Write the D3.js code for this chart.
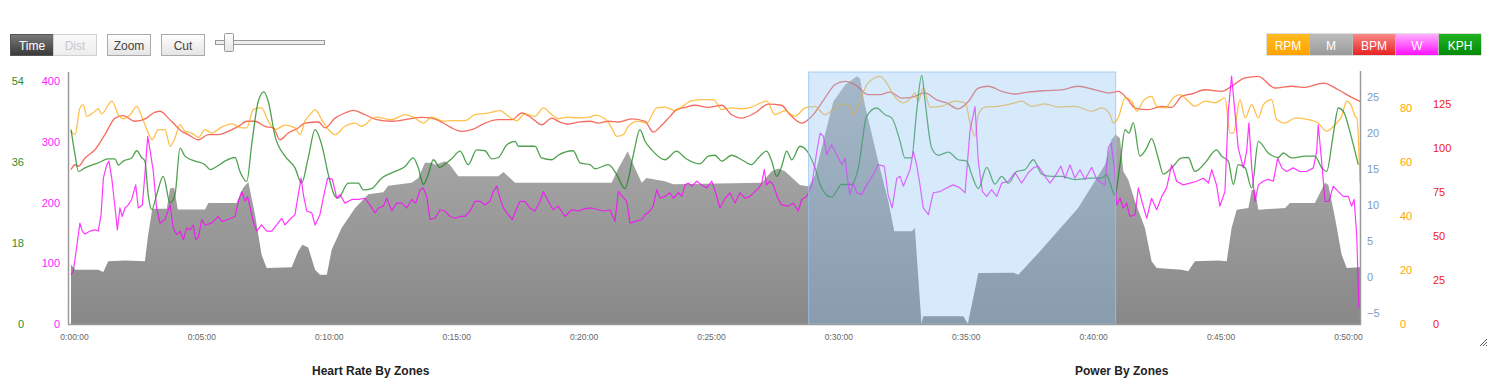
<!DOCTYPE html>
<html><head><meta charset="utf-8">
<script src="https://cdn.jsdelivr.net/npm/d3@7"></script>
<style>
body{margin:0;background:#fff;overflow:hidden}
svg{display:block;font-family:"Liberation Sans",Arial,sans-serif}
</style>
</head><body>
<svg id="c" width="1509" height="385"></svg>
<script>
// ---- data (time in minutes, value in series units) ----
const altitude = [[0,1.7],[0.16,1.0],[1.07,1.0],[1.27,0.7],[1.46,2.2],[2.12,2.3],[2.90,2.2],[3.03,5.9],[3.19,9.5],[3.76,9.5],
[3.89,12.3],[4.05,12.4],[4.19,9.4],[5.26,9.4],[5.39,10.3],[6.50,10.3],[6.76,12.4],[6.96,13.2],[7.22,8.7],[7.48,3.1],
[7.68,1.25],[8.66,1.35],[8.92,3.6],[9.08,4.5],[9.31,4.1],[9.58,1.0],[9.77,0.3],[10.04,0.3],
[10.23,3.8],[10.62,6.8],[11.15,9.6],[11.67,11.5],[12.26,11.8],[12.45,12.7],[13.37,13.1],[13.63,13.75],[13.89,15.9],[14.16,15.9],
[14.29,15.6],[14.68,16.1],[14.87,15.6],[15.20,14.0],[16.77,14.0],[16.97,14.6],[17.43,13.1],[20.37,13.1],
[21.22,13.1],[21.48,15.1],[21.85,17.5],[22.14,15.1],[22.40,13.1],[22.59,13.75],[23.31,13.3],[23.64,12.9],[27.11,13.1],[27.50,14.7],
[27.76,15.1],[28.02,14.7],[28.61,12.8],[28.96,12.6],[29.20,14.2],[29.59,19.8],[29.92,24.4],[30.38,26.7],
[30.84,27.9],[30.97,27.6],[31.16,23.9],[31.68,16.1],[32.08,10.5],[32.31,6.35],[33.00,6.35],[33.12,6.8],[33.38,-6.5],[33.45,-5.45],
[35.02,-5.45],[35.20,-6.5],[35.61,0.55],[37.00,0.6],[37.18,0.3],[37.96,3.3],[39.53,9.6],[40.58,15.6],
[40.84,19.1],[41.00,19.8],[41.17,19.3],[41.30,14.7],[41.50,13.5],[41.76,10.5],[42.15,6.8],[42.41,2.2],[42.61,1.25],[43.59,1.0],
[43.85,0.8],[44.11,2.2],[45.03,2.3],[45.36,2.2],[45.55,6.8],[45.75,9.35],[46.21,9.6],[46.34,12.1],[46.47,12.1],[46.60,9.35],
[47.65,9.6],[47.84,10.3],[48.82,10.3],[49.22,13.1],[49.35,12.8],[49.61,8.2],[49.87,3.1],[50.07,1.25],[50.59,1.35]];

const speedKph = [[0,43.2],[0.16,37.6],[0.29,33.9],[0.55,34.7],[1.07,35.8],[1.46,36.7],[1.73,36.7],[1.86,35.3],[2.05,36.2],[2.38,36.9],
[2.58,38.5],[2.77,37.0],[2.90,36.2],[3.03,28.7],[3.17,25.4],[3.36,28.7],[3.62,32.8],[3.89,26.9],[4.08,28.7],[4.28,39.1],
[4.47,37.3],[4.87,36.2],[5.26,35.4],[5.46,34.3],[5.72,35.0],[6.04,36.2],[6.44,37.0],[6.63,33.9],[6.90,31.7],[7.09,39.8],
[7.35,49.5],[7.57,51.6],[7.74,49.5],[8.01,41.7],[8.40,37.3],[8.79,34.7],[9.05,31.3],[9.31,36.9],[9.58,43.2],[9.84,39.8],
[10.10,33.2],[10.36,28.4],[10.49,28.0],[10.88,31.3],[11.28,31.3],[11.47,29.8],[11.80,30.1],[12.19,32.4],[12.59,33.6],[13.11,35.0],
[13.43,36.9],[13.63,34.7],[13.83,31.0],[14.02,33.2],[14.22,36.5],[14.48,34.8],[14.74,35.8],[14.94,36.7],[15.27,38.4],[15.59,35.4],
[15.92,38.7],[16.25,38.5],[16.51,36.7],[16.77,37.0],[17.10,39.8],[17.43,40.6],[17.56,39.5],[18.21,39.5],[18.47,36.9],[18.87,36.5],
[19.12,37.5],[19.71,38.5],[19.98,35.8],[20.37,35.4],[20.57,34.5],[21.09,35.4],[21.42,33.2],[21.74,30.1],[22.07,37.6],[22.33,43.2],
[22.53,40.6],[22.79,38.7],[23.31,36.5],[23.77,38.4],[24.10,36.9],[24.69,35.6],[25.01,37.3],[25.27,37.5],[25.54,36.2],[25.93,37.5],
[26.32,36.5],[26.71,35.4],[26.97,36.9],[27.30,38.4],[27.50,36.2],[27.70,32.8],[27.89,35.0],[28.09,38.4],[28.29,36.5],[28.61,39.5],
[28.94,38.0],[29.20,34.7],[29.46,30.2],[29.85,28.2],[30.25,31.0],[30.64,31.0],[30.90,34.7],[31.23,46.2],[31.62,48.0],[31.95,46.5],
[32.21,45.8],[32.54,40.6],[32.73,36.9],[32.99,36.9],[33.19,47.3],[33.39,55.3],[33.52,49.5],[33.78,39.1],[34.04,37.5],[34.43,38.2],
[34.82,36.5],[35.15,36.2],[35.35,33.2],[35.61,30.1],[35.94,34.8],[36.26,31.1],[36.53,32.8],[36.79,31.3],[37.12,33.9],[37.44,34.3],
[37.77,36.5],[38.10,33.3],[38.49,32.8],[38.88,32.8],[39.40,32.1],[40.06,32.4],[40.45,32.4],[40.65,33.2],[40.78,31.3],[40.97,28.7],
[41.17,35.4],[41.37,43.2],[41.52,42.4],[41.69,44.7],[41.95,37.3],[42.22,39.1],[42.41,41.2],[42.67,36.9],[42.87,33.3],[43.20,34.7],
[43.59,36.9],[43.85,37.0],[44.11,33.9],[44.51,35.8],[44.96,38.7],[45.16,37.3],[45.42,36.2],[45.62,31.0],[45.81,35.4],[46.08,34.7],
[46.34,30.2],[46.60,40.6],[46.99,38.0],[47.38,37.0],[47.58,38.0],[47.91,36.9],[48.43,37.3],[48.82,37.3],[49.09,34.7],[49.28,33.9],
[49.54,42.1],[49.74,48.0],[49.93,47.3],[50.26,41.3],[50.52,35.4]];

const cadenceRpm = [[0,71.4],[0.16,70.1],[0.35,80.0],[0.48,81.2],[0.62,76.9],[0.94,78.8],[1.07,79.7],[1.20,77.8],[1.60,82.5],[1.86,77.5],
[2.05,76.0],[2.32,77.5],[2.58,80.6],[2.80,76.3],[3.03,70.7],[3.19,68.3],[3.43,72.0],[3.69,72.0],[3.89,65.8],[4.08,68.9],
[4.28,73.8],[4.47,71.4],[4.74,70.7],[5.00,69.1],[5.26,72.0],[5.52,70.7],[5.91,72.9],[6.31,74.1],[6.70,72.6],[6.90,72.6],
[7.15,79.4],[7.48,80.0],[7.74,75.1],[8.01,72.0],[8.40,73.6],[8.79,72.6],[8.99,70.1],[9.18,75.1],[9.38,77.5],[9.58,79.4],
[9.84,75.7],[10.10,72.0],[10.36,70.1],[10.75,73.2],[11.15,74.4],[11.41,73.2],[11.93,76.6],[12.59,75.7],[13.11,77.5],[13.43,76.6],
[13.83,74.4],[14.16,76.6],[14.61,75.1],[15.00,75.3],[15.46,75.3],[15.86,77.5],[16.38,78.1],[16.84,79.0],[17.16,76.9],[17.49,75.3],
[17.82,77.8],[18.21,76.9],[18.54,80.0],[18.87,77.5],[19.12,76.0],[19.52,76.6],[19.91,76.3],[20.37,76.6],[20.57,77.3],[20.96,76.0],
[21.22,72.6],[21.42,69.5],[21.68,70.1],[21.87,73.2],[22.26,75.1],[22.59,74.4],[22.99,80.0],[23.31,80.3],[23.70,79.0],[24.10,81.2],
[24.36,82.7],[24.88,83.1],[25.21,83.1],[25.54,79.4],[25.93,80.0],[26.32,79.7],[26.71,80.3],[27.30,82.5],[27.63,77.5],[28.02,79.0],
[28.41,76.9],[28.81,80.0],[29.20,80.6],[29.59,77.5],[29.92,79.4],[30.25,81.5],[30.57,80.6],[30.70,77.5],[30.97,82.5],[31.23,88.6],
[31.75,91.7],[32.01,89.3],[32.27,84.9],[32.66,81.9],[32.99,84.0],[33.12,85.6],[33.25,82.5],[33.45,87.4],[33.71,80.3],[34.17,80.6],
[34.69,82.5],[35.09,81.9],[35.32,73.2],[35.48,69.5],[35.61,77.5],[35.87,80.3],[36.39,80.6],[37.05,81.9],[37.31,82.5],[37.70,80.6],
[38.23,81.5],[38.75,80.3],[39.40,80.6],[40.06,78.8],[40.45,80.0],[40.78,77.5],[40.91,74.4],[41.10,76.3],[41.37,83.7],[41.63,82.5],
[41.83,78.8],[42.08,82.5],[42.41,84.3],[42.61,80.6],[42.94,80.0],[43.26,83.7],[43.52,84.9],[43.85,82.5],[44.11,80.6],[44.51,82.5],
[44.90,81.9],[45.29,83.7],[45.49,70.7],[45.62,70.7],[45.88,83.1],[46.08,76.3],[46.34,81.2],[46.60,76.3],[46.80,81.2],[47.12,83.1],
[47.32,75.7],[47.65,74.4],[48.04,76.3],[48.56,75.7],[48.95,74.4],[49.28,71.4],[49.61,73.8],[49.87,76.9],[50.07,82.5],[50.26,80.6],
[50.40,76.9],[50.47,76.3],[50.59,52.2]];

const heartBpm = [[0,87.7],[0.16,90.5],[0.29,89.6],[0.55,94.3],[0.94,99.0],[1.33,107.6],[1.73,117.0],[2.05,118.4],[2.51,115.2],[2.97,117.0],
[3.23,119.9],[3.49,120.9],[3.82,117.0],[4.08,113.2],[4.34,109.5],[4.60,107.6],[5.00,104.7],[5.39,107.6],[5.78,107.6],[6.17,109.5],
[6.57,112.3],[6.90,115.2],[7.22,115.2],[7.61,112.3],[7.94,111.4],[8.20,104.7],[8.53,108.5],[8.92,111.4],[9.18,114.2],[9.71,114.8],
[9.97,111.4],[10.36,117.0],[10.75,119.9],[11.08,121.4],[11.54,118.9],[12.00,116.1],[12.59,115.2],[13.11,116.1],[13.76,117.4],[14.16,117.0],
[14.61,114.2],[14.94,111.4],[15.33,109.5],[15.73,110.4],[16.25,114.2],[16.77,116.1],[17.30,116.1],[17.69,119.9],[18.08,117.0],[18.47,113.2],
[18.87,117.0],[19.12,115.2],[19.52,113.6],[19.98,114.8],[20.37,115.2],[20.69,114.2],[21.09,115.2],[21.48,114.8],[22.01,116.6],[22.53,115.2],
[22.85,109.1],[23.18,112.9],[23.51,118.0],[23.77,121.8],[24.10,123.1],[24.49,124.3],[25.01,123.1],[25.54,124.3],[25.93,118.9],[26.32,117.0],
[26.84,119.9],[27.37,125.0],[27.89,124.3],[28.22,118.9],[28.68,114.2],[29.07,118.0],[29.59,128.4],[29.98,136.0],[30.38,137.9],[30.77,136.0],
[31.29,130.3],[31.75,130.3],[32.14,131.8],[32.60,128.4],[32.99,128.8],[33.52,131.3],[33.98,127.4],[34.37,125.6],[34.82,122.3],[35.22,126.5],
[35.61,134.1],[36.00,135.1],[36.53,132.2],[37.05,130.7],[37.57,131.8],[38.23,132.6],[38.88,133.1],[39.53,135.1],[40.19,133.1],[40.78,131.3],
[41.10,132.2],[41.43,128.4],[41.76,122.7],[42.28,121.8],[42.81,123.7],[43.20,123.1],[43.59,129.4],[43.98,130.7],[44.51,133.1],[45.16,132.2],
[45.55,135.1],[46.08,139.8],[46.60,140.7],[47.25,134.1],[47.91,135.1],[48.43,134.5],[49.15,136.9],[49.74,133.1],[50.26,128.8],[50.59,126.5]];

const powerW = [[0,81],[0.09,87],[0.18,114],[0.35,166],[0.44,153],[0.55,148],[0.75,153],[0.94,155],[1.07,153],[1.18,180],
[1.27,240],[1.40,262],[1.49,268],[1.60,240],[1.73,191],[1.82,155],[1.92,191],[2.01,177],[2.12,191],[2.25,196],
[2.38,205],[2.54,229],[2.64,191],[2.80,196],[2.90,246],[3.01,309],[3.11,284],[3.23,251],[3.36,191],[3.49,166],
[3.69,172],[3.89,196],[4.01,158],[4.15,147],[4.28,153],[4.41,139],[4.54,158],[4.67,155],[4.80,163],[4.89,139],
[5.00,142],[5.13,172],[5.26,163],[5.52,166],[5.78,177],[5.91,169],[6.17,172],[6.44,177],[6.57,202],[6.70,218],
[6.83,202],[6.93,210],[7.03,191],[7.15,169],[7.29,153],[7.48,163],[7.68,153],[7.88,153],[8.07,163],[8.27,174],
[8.40,163],[8.59,172],[8.79,180],[8.92,213],[9.03,240],[9.12,213],[9.25,186],[9.45,183],[9.58,163],[9.77,180],
[9.90,207],[10.07,240],[10.26,238],[10.43,207],[10.56,213],[10.75,199],[11.02,205],[11.28,205],[11.54,207],[11.73,196],
[11.93,183],[12.06,191],[12.26,194],[12.39,207],[12.59,186],[12.78,199],[12.98,199],[13.18,191],[13.37,205],[13.53,199],
[13.70,221],[13.83,224],[13.96,210],[14.09,172],[14.29,174],[14.48,188],[14.68,186],[14.87,177],[15.07,174],[15.27,177],
[15.46,177],[15.66,186],[15.86,202],[16.05,202],[16.25,196],[16.44,202],[16.57,218],[16.71,227],[16.84,207],[16.97,191],
[17.16,180],[17.32,172],[17.45,186],[17.62,202],[17.82,202],[18.01,191],[18.21,186],[18.41,202],[18.54,218],[18.73,202],
[18.93,188],[19.12,194],[19.39,177],[19.65,188],[19.91,186],[20.17,190],[20.44,191],[20.70,188],[20.96,186],[21.15,188],
[21.35,169],[21.48,218],[21.64,210],[21.81,202],[21.94,166],[22.14,169],[22.40,172],[22.53,180],[22.72,186],[22.85,194],
[22.99,221],[23.12,207],[23.31,210],[23.51,216],[23.64,207],[23.84,216],[23.97,210],[24.10,229],[24.23,232],[24.36,227],
[24.56,235],[24.75,229],[24.95,224],[25.15,235],[25.30,216],[25.47,191],[25.67,207],[25.86,216],[26.06,199],[26.26,216],
[26.45,207],[26.65,210],[26.84,218],[27.00,224],[27.11,232],[27.21,254],[27.30,229],[27.43,235],[27.56,229],[27.74,207],
[27.89,196],[28.15,194],[28.35,199],[28.54,186],[28.68,205],[28.87,210],[29.07,227],[29.27,284],[29.40,314],[29.53,309],
[29.66,279],[29.85,295],[30.05,279],[30.25,262],[30.38,273],[30.48,238],[30.57,213],[30.70,232],[30.84,216],[31.03,213],
[31.23,229],[31.49,246],[31.68,262],[31.92,260],[32.07,213],[32.23,191],[32.41,240],[32.54,243],[32.67,227],[32.93,254],
[33.06,284],[33.19,262],[33.32,229],[33.45,191],[33.65,180],[33.84,216],[34.11,218],[34.37,224],[34.63,229],[34.89,224],
[35.09,216],[35.28,317],[35.48,358],[35.61,268],[35.77,218],[35.94,210],[36.13,221],[36.33,210],[36.53,232],[36.79,235],
[37.05,249],[37.31,232],[37.57,249],[37.77,257],[37.96,260],[38.23,243],[38.42,232],[38.62,243],[38.85,260],[39.01,240],
[39.21,262],[39.40,240],[39.60,254],[39.80,238],[40.06,258],[40.26,238],[40.45,232],[40.58,229],[40.71,290],[40.82,298],
[40.95,257],[41.04,196],[41.17,207],[41.30,191],[41.43,199],[41.56,177],[41.76,180],[41.89,224],[42.05,199],[42.22,174],
[42.41,207],[42.61,188],[42.81,210],[43.00,224],[43.20,262],[43.39,235],[43.65,229],[43.92,232],[44.18,235],[44.44,240],
[44.64,232],[44.77,254],[44.96,229],[45.09,194],[45.29,218],[45.42,350],[45.55,408],[45.68,350],[45.81,290],[46.01,257],
[46.14,284],[46.23,331],[46.34,257],[46.47,202],[46.60,229],[46.79,235],[46.99,238],[47.19,235],[47.36,273],[47.52,257],
[47.71,251],[47.97,257],[48.23,251],[48.50,251],[48.76,257],[48.89,284],[48.95,328],[49.06,279],[49.22,202],[49.37,202],
[49.54,227],[49.74,218],[49.93,210],[50.13,210],[50.26,194],[50.36,205],[50.46,147],[50.55,26]];

const timeTicks = [0,5,10,15,20,25,30,35,40,45,50];
const timeTickLabels = ["0:00:00","0:05:00","0:10:00","0:15:00","0:20:00","0:25:00","0:30:00","0:35:00","0:40:00","0:45:00","0:50:00"];
const kphTicks = [0,18,36,54];
const wattTicks = [0,100,200,300,400];
const altTicks = [-5,0,5,10,15,20,25];
const rpmTicks = [0,20,40,60,80];
const bpmTicks = [0,25,50,75,100,125];
const legendLabels = ["RPM","M","BPM","W","KPH"];
const selection = [28.95, 41.0]; // selected time window, minutes
const sectionTitles = ["Heart Rate By Zones","Power By Zones"];

// ---- drawing ----
const svg = d3.select("#c");
const L = 71, R = 1360, T = 72, B = 324;
const x = d3.scaleLinear().domain([0, 50.59]).range([L, R]);
const yAlt = d3.scaleLinear().domain([-6.53, 28.5]).range([B, T]);
const yKph = d3.scaleLinear().domain([0, 56]).range([B, T]);
const yW = d3.scaleLinear().domain([0, 414.8]).range([B, T]);
const yRpm = d3.scaleLinear().domain([0, 93.3]).range([B, T]);
const yBpm = d3.scaleLinear().domain([0, 143.2]).range([B, T]);

const defs = svg.append("defs");
function grad(id, c1, c2, y1, y2, units) {
  const g = defs.append("linearGradient").attr("id", id).attr("x1", 0).attr("x2", 0);
  if (units) g.attr("gradientUnits", "userSpaceOnUse").attr("y1", y1).attr("y2", y2);
  else g.attr("y1", 0).attr("y2", 1);
  g.append("stop").attr("offset", "0%").attr("stop-color", c1);
  g.append("stop").attr("offset", "100%").attr("stop-color", c2);
}
grad("gArea", "#b4b4b4", "#888888", T, B, true);
grad("gTime", "#7a7a7a", "#383838");
grad("gBtn", "#ffffff", "#e4e4e4");
grad("gDist", "#fafafa", "#ededed");
grad("gRPM", "#ffbb22", "#ffa200");
grad("gM", "#bdbdbd", "#9a9a9a");
grad("gBPM", "#f88a88", "#e82222");
grad("gW", "#ffb0ff", "#ff10ff");
grad("gKPH", "#22b322", "#058a05");

// controls
const ctl = svg.append("g").attr("font-size", 12);
ctl.append("rect").attr("x", 10.5).attr("y", 34.5).attr("width", 43).attr("height", 21).attr("fill", "url(#gTime)").attr("stroke", "#555");
ctl.append("text").attr("x", 32).attr("y", 49.5).attr("text-anchor", "middle").attr("fill", "#fff").text("Time");
ctl.append("rect").attr("x", 53.5).attr("y", 34.5).attr("width", 43).attr("height", 21).attr("fill", "url(#gDist)").attr("stroke", "#d0d0d0");
ctl.append("text").attr("x", 75).attr("y", 49.5).attr("text-anchor", "middle").attr("fill", "#c8c8c8").text("Dist");
[["Zoom", 107.5], ["Cut", 161.5]].forEach(([t, bx]) => {
  ctl.append("rect").attr("x", bx).attr("y", 34.5).attr("width", 43).attr("height", 21).attr("fill", "url(#gBtn)").attr("stroke", "#aaa");
  ctl.append("text").attr("x", bx + 21.5).attr("y", 49.5).attr("text-anchor", "middle").attr("fill", "#444").text(t);
});
ctl.append("rect").attr("x", 215.5).attr("y", 40.5).attr("width", 109).attr("height", 4).attr("fill", "#eee").attr("stroke", "#999");
ctl.append("rect").attr("x", 224.5).attr("y", 33.5).attr("width", 9).attr("height", 18).attr("rx", 1).attr("fill", "url(#gBtn)").attr("stroke", "#999");

// legend
const lg = svg.append("g").attr("font-size", 12);
const lgFill = ["url(#gRPM)", "url(#gM)", "url(#gBPM)", "url(#gW)", "url(#gKPH)"];
lg.append("rect").attr("x", 1266.5).attr("y", 33.5).attr("width", 215).attr("height", 22).attr("fill", "#bbb");
legendLabels.forEach((lab, i) => {
  const bx = 1267 + i * 43;
  lg.append("rect").attr("x", bx).attr("y", 34).attr("width", 42).attr("height", 21).attr("fill", lgFill[i]);
  lg.append("text").attr("x", bx + 21).attr("y", 49.5).attr("text-anchor", "middle").attr("fill", "#fff").text(lab);
});

// altitude area
svg.append("path").datum(altitude)
  .attr("d", d3.area().x(d => x(d[0])).y0(B).y1(d => yAlt(d[1])))
  .attr("fill", "url(#gArea)");

function line(data, ys, color, w, curve) {
  svg.append("path").datum(data)
    .attr("d", d3.line().x(d => x(d[0])).y(d => ys(d[1])).curve(curve))
    .attr("fill", "none").attr("stroke", color).attr("stroke-width", w).attr("stroke-linejoin", "round");
}
line(heartBpm, yBpm, "rgba(240,50,35,0.72)", 1.3, d3.curveMonotoneX);
line(cadenceRpm, yRpm, "rgba(255,165,0,0.7)", 1.3, d3.curveMonotoneX);
line(speedKph, yKph, "rgba(20,130,20,0.75)", 1.3, d3.curveMonotoneX);
line(powerW, yW, "rgba(255,0,255,0.78)", 1.2, d3.curveLinear);

// selection overlay
svg.append("rect").attr("x", x(selection[0])).attr("y", T).attr("width", x(selection[1]) - x(selection[0])).attr("height", B - T)
  .attr("fill", "rgba(140,196,246,0.35)").attr("stroke", "rgba(150,195,235,0.8)").attr("stroke-width", 1);

// frame
const fr = svg.append("g").attr("stroke", "#9a9a9a").attr("stroke-width", 1.5).attr("fill", "none");
fr.append("line").attr("x1", 68.5).attr("x2", 68.5).attr("y1", T).attr("y2", B + 0.5);
fr.append("line").attr("x1", 68).attr("x2", R + 1).attr("y1", B + 0.5).attr("y2", B + 0.5);
fr.append("line").attr("x1", R + 0.5).attr("x2", R + 0.5).attr("y1", T - 1).attr("y2", B + 0.5);

// axes
function styleAxis(g, color, size) {
  g.select(".domain").remove();
  g.selectAll(".tick line").remove();
  g.selectAll("text").attr("fill", color).attr("font-size", size).attr("font-family", '"Liberation Sans",Arial,sans-serif');
}
svg.append("g").attr("transform", "translate(26,0)")
  .call(d3.axisLeft(yKph).tickValues(kphTicks).tickSize(0).tickPadding(2))
  .call(g => styleAxis(g, "#2e8b2e", 11));
svg.append("g").attr("transform", "translate(62,0)")
  .call(d3.axisLeft(yW).tickValues(wattTicks).tickSize(0).tickPadding(2))
  .call(g => styleAxis(g, "#ff22ff", 11));
svg.append("g").attr("transform", "translate(1364,0)")
  .call(d3.axisRight(yAlt).tickValues(altTicks).tickSize(0).tickPadding(3))
  .call(g => styleAxis(g, "#7d9cc0", 11));
svg.append("g").attr("transform", "translate(1397,0)")
  .call(d3.axisRight(yRpm).tickValues(rpmTicks).tickSize(0).tickPadding(3))
  .call(g => styleAxis(g, "#ffa500", 11));
svg.append("g").attr("transform", "translate(1430,0)")
  .call(d3.axisRight(yBpm).tickValues(bpmTicks).tickSize(0).tickPadding(3))
  .call(g => styleAxis(g, "#f02020", 11));
svg.append("g").attr("transform", "translate(3," + B + ")")
  .call(d3.axisBottom(x).tickValues(timeTicks).tickFormat((d, i) => timeTickLabels[i]).tickSize(0).tickPadding(10))
  .call(g => styleAxis(g, "#666", 8.5));

// section titles
svg.append("text").attr("x", 312).attr("y", 375).attr("font-size", 12).attr("font-weight", "bold").attr("fill", "#222").text(sectionTitles[0]);
svg.append("text").attr("x", 1075).attr("y", 375).attr("font-size", 12).attr("font-weight", "bold").attr("fill", "#222").text(sectionTitles[1]);

// resize grip
const grip = svg.append("g").attr("stroke", "#555").attr("stroke-width", 1);
[[1487, 339, 1480, 346], [1487, 342, 1483, 346], [1487, 345, 1486, 346]].forEach(l =>
  grip.append("line").attr("x1", l[0]).attr("y1", l[1]).attr("x2", l[2]).attr("y2", l[3]));
</script>
</body></html>
